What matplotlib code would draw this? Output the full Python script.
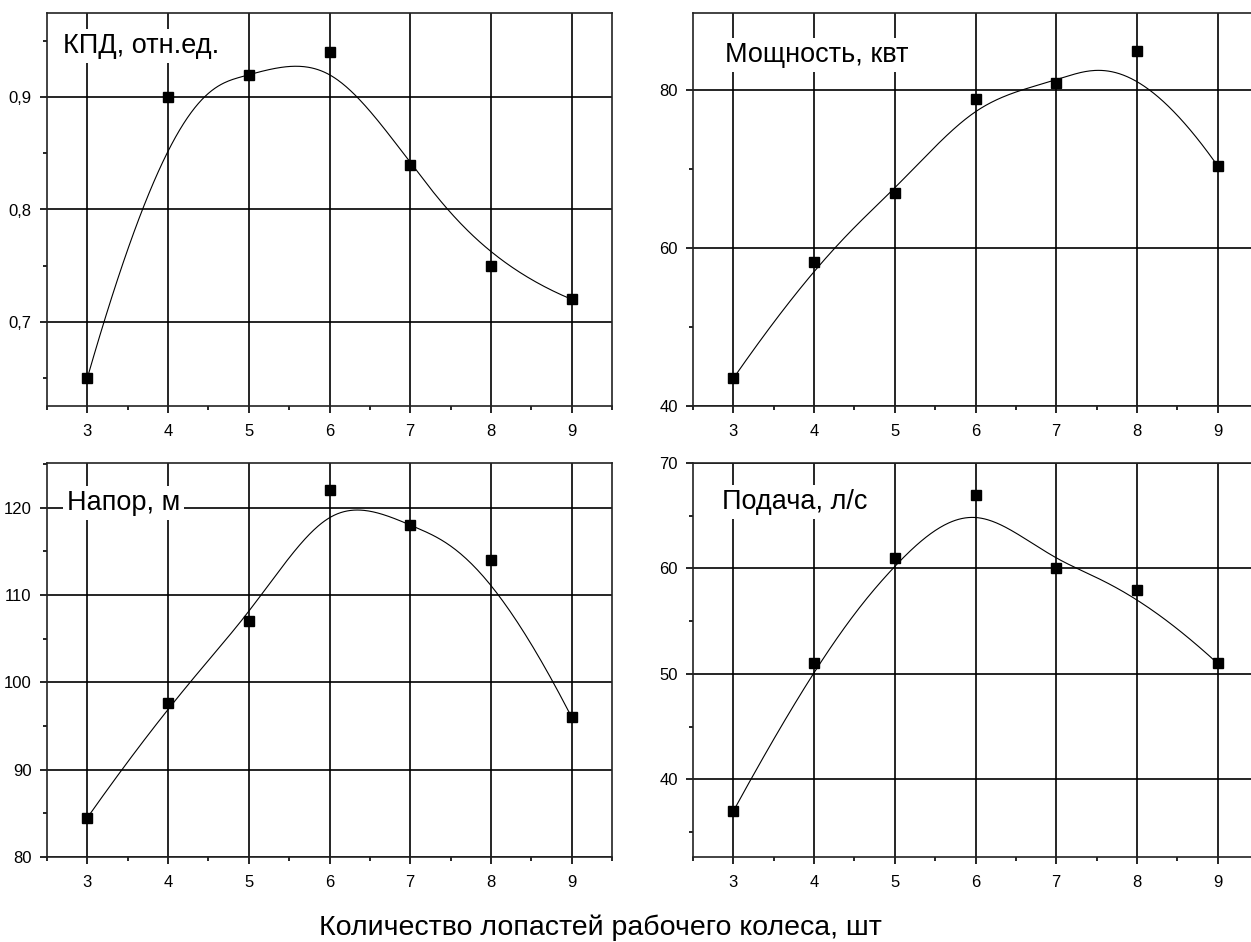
import numpy as np
import matplotlib
matplotlib.use("Agg")
import matplotlib.pyplot as plt
from matplotlib.ticker import MultipleLocator, FuncFormatter

plt.rcParams['font.family'] = ['Liberation Sans', 'DejaVu Sans']

blades = [3, 4, 5, 6, 7, 8, 9]
kpd = [0.65, 0.90, 0.92, 0.94, 0.84, 0.75, 0.72]
power = [43.5, 58.2, 67.0, 78.9, 80.9, 84.9, 70.4]
head = [84.5, 97.6, 107.0, 122.0, 118.0, 114.0, 96.0]
flow = [37.0, 51.0, 61.0, 67.0, 60.0, 58.0, 51.0]


def bspline(xs, ys, n=300, k=3):
    # clamped uniform cubic B-spline, data points used as control points
    m = len(xs)
    knots = np.concatenate([np.zeros(k), np.arange(m - k + 1), np.full(k, m - k)]).astype(float)
    t = np.linspace(0, m - k, n)
    N = np.zeros((n, len(knots) - 1))
    for i in range(len(knots) - 1):
        N[:, i] = (t >= knots[i]) & (t < knots[i + 1])
    last = np.max(np.nonzero(knots[1:] > knots[:-1])[0])
    N[t >= knots[-1], last] = 1
    for d in range(1, k + 1):
        Nn = np.zeros((n, len(knots) - 1 - d))
        for i in range(len(knots) - 1 - d):
            a = knots[i + d] - knots[i]
            b = knots[i + d + 1] - knots[i + 1]
            if a > 0:
                Nn[:, i] += (t - knots[i]) / a * N[:, i]
            if b > 0:
                Nn[:, i] += (knots[i + d + 1] - t) / b * N[:, i + 1]
        N = Nn
    return N @ np.asarray(xs, float), N @ np.asarray(ys, float)


W, H = 1251, 942
fig = plt.figure(figsize=(W / 100, H / 100), dpi=100)


def px_axes(l, t, r, b):
    return fig.add_axes([l / W, 1 - b / H, (r - l) / W, (b - t) / H])


panels = [
    (px_axes(47, 13, 612, 406), kpd, 'КПД, отн.ед.', (0.625, 0.975), 0.1, (63, 53)),
    (px_axes(693, 13, 1258, 406), power, 'Мощность, квт', (40, 89.75), 20, (725, 62)),
    (px_axes(47, 463, 612, 857), head, 'Напор, м', (80, 125.1), 10, (67, 510)),
    (px_axes(693, 463, 1258, 857), flow, 'Подача, л/с', (32.65, 70), 10, (722, 509)),
]

comma = FuncFormatter(lambda v, p: ('%g' % round(v, 6)).replace('.', ','))

for ax, vals, title, ylim, step, (tx, ty) in panels:
    ax.set_xlim(2.5, 9.5)
    ax.set_ylim(*ylim)
    ax.xaxis.set_major_locator(MultipleLocator(1))
    ax.xaxis.set_minor_locator(MultipleLocator(0.5))
    ax.yaxis.set_major_locator(MultipleLocator(step))
    ax.yaxis.set_minor_locator(MultipleLocator(step / 2))
    ax.yaxis.set_major_formatter(comma)
    ax.grid(True, which='major', color='black', linewidth=1.2)
    ax.set_axisbelow(True)
    for s in ax.spines.values():
        s.set_linewidth(1.2)
        s.set_color('#222222')
    ax.tick_params(which='major', direction='out', length=5, width=1.2, labelsize=12, pad=6)
    ax.tick_params(which='minor', direction='out', length=3, width=1.2)
    ax.tick_params(axis='x', which='major', pad=8)

    cx, cy = bspline(blades, vals)
    ax.plot(cx, cy, color='black', linewidth=0.8, zorder=3)
    ax.plot(blades, vals, linestyle='none', marker='s', markersize=7,
            color='black', zorder=4, clip_on=False)

    ax.text(tx / W, 1 - ty / H, title, transform=fig.transFigure, fontsize=19.5,
            ha='left', va='baseline', zorder=5,
            bbox=dict(boxstyle='square,pad=0.15', facecolor='white', edgecolor='none'))

fig.text(600 / W, 1 - 935 / H, 'Количество лопастей рабочего колеса, шт',
         fontsize=20.5, ha='center', va='baseline')

fig.savefig('out.png', dpi=100)
